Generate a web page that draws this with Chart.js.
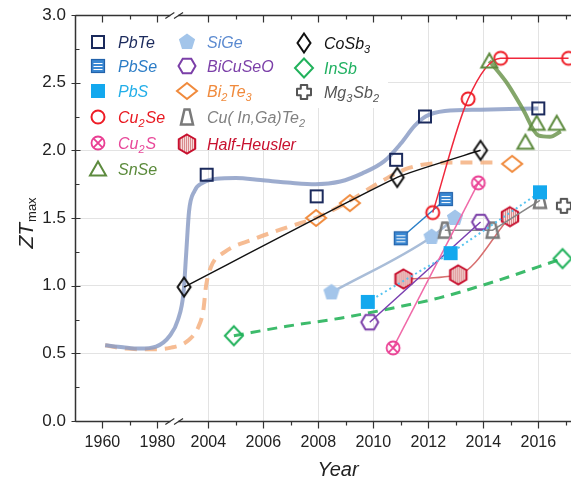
<!DOCTYPE html>
<html>
<head>
<meta charset="utf-8">
<script src="https://cdn.jsdelivr.net/npm/chart.js@4.4.1/dist/chart.umd.min.js"></script>
<style>
  body { margin: 0; background: #fff; }
  .wrap { position: relative; width: 571px; height: 482px; }
</style>
</head>
<body>
<div class="wrap"><canvas id="zt"></canvas></div>
<script>
// x values are positions on the broken axis: right of the break a position is the year,
// left of it 1960 / 1970 / 1980 sit at 2000.15 / 2001.15 / 2002.15
const tickPos = [2000.15, 2002.15, 2004, 2006, 2008, 2010, 2012, 2014, 2016];
const tickLabels = ['1960', '1980', '2004', '2006', '2008', '2010', '2012', '2014', '2016'];
const minorPos = [2001.15, 2005, 2007, 2009, 2011, 2013, 2015, 2017];
const yTicks = [0, 0.5, 1, 1.5, 2, 2.5, 3];
const yMinor = [0.25, 0.75, 1.25, 1.75, 2.25, 2.75];

const pbteX = [2003.94, 2007.94, 2010.83, 2011.88, 2016.0];
const pbteY = [1.82, 1.66, 1.93, 2.25, 2.31];
const pbseX = [2011.0, 2012.64];
const pbseY = [1.35, 1.64];
const pbsX = [2009.8, 2012.81, 2016.06];
const pbsY = [0.88, 1.24, 1.69];
const cu2seX = [2012.16, 2013.45, 2014.63, 2017.1];
const cu2seY = [1.54, 2.38, 2.68, 2.68];
const cu2sX = [2010.72, 2013.82];
const cu2sY = [0.54, 1.76];
const snseX = [2014.22, 2015.53, 2015.94, 2016.67];
const snseY = [2.66, 2.06, 2.2, 2.2];
const sigeX = [2008.48, 2012.12, 2012.97];
const sigeY = [0.95, 1.36, 1.5];
const bicuseoX = [2009.87, 2013.9];
const bicuseoY = [0.73, 1.47];
const bi2te3X = [2007.92, 2009.15, 2015.05];
const bi2te3Y = [1.5, 1.61, 1.9];
const cuingaX = [2012.6, 2014.34, 2016.06];
const cuingaY = [1.41, 1.41, 1.63];
const hhX = [2011.1, 2013.09, 2014.97];
const hhY = [1.05, 1.08, 1.51];
const cosb3X = [2003.12, 2010.87, 2013.9];
const cosb3Y = [0.99, 1.8, 2.0];
const insbX = [2004.93, 2016.88];
const insbY = [0.63, 1.2];
const mg3sb2X = [2016.93];
const mg3sb2Y = [1.59];

// trend curves
const pbteTrendX = [2000.25, 2000.9, 2001.5, 2002.1, 2002.6, 2002.9, 2003.1, 2003.2, 2003.3, 2003.5, 2003.8, 2004.3, 2005.0, 2005.9, 2007.0, 2007.9, 2008.8, 2009.6, 2010.4, 2011.0, 2011.5, 2011.9, 2012.6, 2013.9, 2016.0];
const pbteTrendY = [0.56, 0.545, 0.535, 0.55, 0.63, 0.75, 0.95, 1.25, 1.55, 1.7, 1.76, 1.79, 1.795, 1.78, 1.76, 1.75, 1.77, 1.83, 1.92, 2.05, 2.18, 2.25, 2.29, 2.3, 2.31];
const bi2te3TrendX = [2000.25, 2001.0, 2002.0, 2002.6, 2003.3, 2003.65, 2003.82, 2003.92, 2004.1, 2004.6, 2005.6, 2007.0, 2007.9, 2009.0, 2010.2, 2011.3, 2012.9, 2014.4];
const bi2te3TrendY = [0.56, 0.535, 0.53, 0.54, 0.6, 0.7, 0.82, 1.0, 1.14, 1.25, 1.34, 1.44, 1.5, 1.61, 1.76, 1.87, 1.91, 1.91];
const snseTrendX = [2014.22, 2014.85, 2015.45, 2016.0, 2016.42, 2016.82];
const snseTrendY = [2.66, 2.5, 2.3, 2.11, 2.1, 2.14];
const insbTrendX = [2004.93, 2006.85, 2008.8, 2010.6, 2012.4, 2014.24, 2016.88];
const insbTrendY = [0.63, 0.7, 0.76, 0.83, 0.91, 1.02, 1.2];

const X_MIN = 1999.153;
const X_MAX = 2017.189;
const FONT = '"Liberation Sans", Arial, sans-serif';

// marker images
function marker(draw) {
  const c = document.createElement('canvas');
  c.width = 24; c.height = 24;
  const g = c.getContext('2d');
  g.translate(12, 12);
  draw(g);
  return c;
}
function poly(g, pts) {
  g.beginPath();
  pts.forEach(([x, y], i) => i ? g.lineTo(x, y) : g.moveTo(x, y));
  g.closePath();
}
function ngon(g, n, r, rot) {
  const pts = [];
  for (let i = 0; i < n; i++) {
    const a = rot + i * 2 * Math.PI / n;
    pts.push([r * Math.cos(a), r * Math.sin(a)]);
  }
  poly(g, pts);
}

const mPbTe = marker(g => { g.strokeStyle = '#1b2a5c'; g.lineWidth = 2; g.strokeRect(-6, -6, 12, 12); });
const mPbSe = marker(g => {
  g.fillStyle = '#3a88d2'; g.fillRect(-6.5, -6.5, 13, 13);
  g.strokeStyle = '#2262aa'; g.lineWidth = 1.2; g.strokeRect(-6.5, -6.5, 13, 13);
  g.strokeStyle = '#fff'; g.lineWidth = 1;
  [-3, 0, 3].forEach(y => { g.beginPath(); g.moveTo(-4.5, y + 0.5); g.lineTo(4.5, y + 0.5); g.stroke(); });
});
const mPbS = marker(g => { g.fillStyle = '#13a8ee'; g.fillRect(-7, -7, 14, 14); });
const mCu2Se = marker(g => { g.strokeStyle = '#ee1c25'; g.lineWidth = 2; g.beginPath(); g.arc(0, 0, 6.5, 0, 2 * Math.PI); g.stroke(); });
const mCu2S = marker(g => {
  g.strokeStyle = '#ea3f94'; g.lineWidth = 1.8;
  g.beginPath(); g.arc(0, 0, 6.5, 0, 2 * Math.PI); g.stroke();
  g.beginPath(); g.moveTo(-4.6, -4.6); g.lineTo(4.6, 4.6); g.moveTo(4.6, -4.6); g.lineTo(-4.6, 4.6); g.stroke();
});
const mSnSe = marker(g => { g.strokeStyle = '#5d8b3e'; g.lineWidth = 2; poly(g, [[0, -7.5], [8, 6.5], [-8, 6.5]]); g.stroke(); });
const mSiGe = marker(g => { g.fillStyle = '#a3c5ea'; ngon(g, 5, 8.5, -Math.PI / 2); g.fill(); });
const mBiCuSeO = marker(g => { g.strokeStyle = '#7b3fa8'; g.lineWidth = 2; ngon(g, 6, 8.5, 0); g.stroke(); });
const mBi2Te3 = marker(g => { g.strokeStyle = '#f08a3c'; g.lineWidth = 2; poly(g, [[0, -8], [10, 0], [0, 8], [-10, 0]]); g.stroke(); });
const mCuInGa = marker(g => { g.strokeStyle = '#7a7a7a'; g.lineWidth = 2.5; poly(g, [[-2.5, -7.5], [2.5, -7.5], [6, 7.5], [-6, 7.5]]); g.stroke(); });
const mHH = marker(g => {
  ngon(g, 6, 9.5, -Math.PI / 2);
  g.fillStyle = '#f6dada'; g.fill();
  g.save(); g.clip();
  g.strokeStyle = '#d98c8c'; g.lineWidth = 1;
  for (let x = -9; x <= 9; x += 2) { g.beginPath(); g.moveTo(x + 0.5, -10); g.lineTo(x + 0.5, 10); g.stroke(); }
  g.restore();
  ngon(g, 6, 9.5, -Math.PI / 2);
  g.strokeStyle = '#c8102e'; g.lineWidth = 2; g.stroke();
});
const mCoSb3 = marker(g => { g.strokeStyle = '#111'; g.lineWidth = 2; poly(g, [[0, -9.5], [6.5, 0], [0, 9.5], [-6.5, 0]]); g.stroke(); });
const mInSb = marker(g => { g.strokeStyle = '#22b25c'; g.lineWidth = 2; poly(g, [[0, -9.5], [9, 0], [0, 9.5], [-9, 0]]); g.stroke(); });
const mMg3Sb2 = marker(g => {
  const a = 3.2, b = 7;
  g.strokeStyle = '#555'; g.lineWidth = 2; g.lineJoin = 'round';
  poly(g, [[-a, -b], [a, -b], [a, -a], [b, -a], [b, a], [a, a], [a, b], [-a, b], [-a, a], [-b, a], [-b, -a], [-a, -a]]);
  g.stroke();
});

const pts = (xs, ys) => xs.map((x, i) => ({ x, y: ys[i] }));

function series(xs, ys, style, opts) {
  return Object.assign({
    data: pts(xs, ys), pointStyle: style, pointRadius: 6, fill: false,
    borderWidth: 1.5, order: 1
  }, opts);
}
function trend(xs, ys, opts) {
  return Object.assign({
    data: pts(xs, ys), pointRadius: 0, fill: false,
    cubicInterpolationMode: 'monotone', order: 5
  }, opts);
}

const datasets = [
  trend(pbteTrendX, pbteTrendY, { borderColor: 'rgba(140,158,198,0.85)', borderWidth: 4 }),
  trend(bi2te3TrendX, bi2te3TrendY, { borderColor: 'rgba(244,176,128,0.85)', borderWidth: 4, borderDash: [12, 8] }),
  trend(snseTrendX, snseTrendY, { borderColor: 'rgba(110,150,80,0.85)', borderWidth: 4, order: 4 }),
  trend(insbTrendX, insbTrendY, { borderColor: '#3dbb6b', borderWidth: 3, borderDash: [10, 7], order: 4 }),
  series(cosb3X, cosb3Y, mCoSb3, { borderColor: '#111', tension: 0.15 }),
  series(pbteX, pbteY, mPbTe, { showLine: false }),
  series(bi2te3X, bi2te3Y, mBi2Te3, { showLine: false }),
  series(snseX, snseY, mSnSe, { showLine: false }),
  series(insbX, insbY, mInSb, { showLine: false }),
  series(mg3sb2X, mg3sb2Y, mMg3Sb2, { showLine: false }),
  series(cu2seX, cu2seY, mCu2Se, { borderColor: '#f0283c', cubicInterpolationMode: 'monotone' }),
  series(pbseX, pbseY, mPbSe, { borderColor: '#2a7fc8' }),
  series(pbsX, pbsY, mPbS, { borderColor: '#58c4f0', borderWidth: 2, borderDash: [2, 3] }),
  series(cu2sX, cu2sY, mCu2S, { borderColor: '#f06aa8' }),
  series(sigeX, sigeY, mSiGe, { borderColor: '#a9bdd8', borderWidth: 2.5, cubicInterpolationMode: 'monotone', order: 2 }),
  series(bicuseoX, bicuseoY, mBiCuSeO, { borderColor: '#7a3fb0' }),
  series(cuingaX, cuingaY, mCuInGa, { borderColor: '#888' }),
  series(hhX, hhY, mHH, { borderColor: '#d87070', cubicInterpolationMode: 'monotone' })
];

const legendRows = [
  { m: mPbTe, x: 98, y: 42, c: '#1b2a5c', t: [['PbTe']] },
  { m: mPbSe, x: 98, y: 66, c: '#2b7cc6', t: [['PbSe']] },
  { m: mPbS, x: 98, y: 91, c: '#22aee8', t: [['PbS']] },
  { m: mCu2Se, x: 98, y: 117, c: '#e81820', t: [['Cu'], ['2', 1], ['Se']] },
  { m: mCu2S, x: 98, y: 143, c: '#e8489a', t: [['Cu'], ['2', 1], ['S']] },
  { m: mSnSe, x: 98, y: 169, c: '#5a8a3a', t: [['SnSe']] },
  { m: mSiGe, x: 187, y: 42, c: '#5b8ad0', t: [['SiGe']] },
  { m: mBiCuSeO, x: 187, y: 66, c: '#7b3fa8', t: [['BiCuSeO']] },
  { m: mBi2Te3, x: 187, y: 91, c: '#f08a3c', t: [['Bi'], ['2', 1], ['Te'], ['3', 1]] },
  { m: mCuInGa, x: 187, y: 117, c: '#808080', t: [['Cu( In,Ga)Te'], ['2', 1]] },
  { m: mHH, x: 187, y: 144, c: '#c8102e', t: [['Half-Heusler']] },
  { m: mCoSb3, x: 304, y: 43, c: '#111', t: [['CoSb'], ['3', 1]] },
  { m: mInSb, x: 304, y: 68, c: '#1fb060', t: [['InSb']] },
  { m: mMg3Sb2, x: 304, y: 92, c: '#555', t: [['Mg'], ['3', 1], ['Sb'], ['2', 1]] }
];

function drawRich(ctx, parts, x, y, color) {
  ctx.fillStyle = color;
  ctx.textAlign = 'left';
  ctx.textBaseline = 'alphabetic';
  let cx = x;
  parts.forEach(([s, sub]) => {
    ctx.font = sub ? 'italic 11px ' + FONT : 'italic 16px ' + FONT;
    ctx.fillText(s, cx, sub ? y + 10 : y + 6);
    cx += ctx.measureText(s).width + (sub ? 1 : 0);
  });
}

const frame = {
  id: 'frame',
  beforeDatasetsDraw(chart) {
    const ctx = chart.ctx;
    ctx.save();
    ctx.fillStyle = '#fff';
    ctx.fillRect(76, 16, 226, 134);
    ctx.fillRect(300, 16, 88, 92);
    ctx.restore();
  },
  afterDraw(chart) {
    const ctx = chart.ctx;
    const a = chart.chartArea;
    const xs = chart.scales.x, ys = chart.scales.y;
    const L = Math.round(a.left) + 0.5, B = Math.round(a.bottom) + 0.5, T = Math.round(a.top) + 0.5;
    const R = a.right;
    ctx.save();
    ctx.strokeStyle = '#333';
    ctx.lineWidth = 1.5;
    ctx.beginPath();
    ctx.moveTo(L, T); ctx.lineTo(L, B);
    ctx.moveTo(L, B); ctx.lineTo(R, B);
    ctx.moveTo(L, T); ctx.lineTo(R, T);
    ctx.stroke();

    // ticks
    ctx.lineWidth = 1.2;
    ctx.beginPath();
    tickPos.forEach(v => {
      const px = Math.round(xs.getPixelForValue(v)) + 0.5;
      ctx.moveTo(px, B); ctx.lineTo(px, B + 7);
      ctx.moveTo(px, T); ctx.lineTo(px, T + 7);
    });
    minorPos.forEach(v => {
      const px = Math.round(xs.getPixelForValue(v)) + 0.5;
      ctx.moveTo(px, B); ctx.lineTo(px, B + 4);
      ctx.moveTo(px, T); ctx.lineTo(px, T + 4);
    });
    yTicks.forEach(v => {
      const py = Math.round(ys.getPixelForValue(v)) + 0.5;
      ctx.moveTo(L - 4, py); ctx.lineTo(L + 5, py);
    });
    yMinor.forEach(v => {
      const py = Math.round(ys.getPixelForValue(v)) + 0.5;
      ctx.moveTo(L, py); ctx.lineTo(L + 4, py);
    });
    ctx.stroke();

    // axis breaks
    const b0 = xs.getPixelForValue(2002.62), b1 = xs.getPixelForValue(2002.9);
    [B, T].forEach(yy => {
      ctx.fillStyle = '#fff';
      ctx.fillRect(b0, yy - 2, b1 - b0, 4);
      ctx.strokeStyle = '#333';
      ctx.lineWidth = 1.2;
      ctx.beginPath();
      ctx.moveTo(b0 - 5, yy + 3); ctx.lineTo(b0 + 4, yy - 3);
      ctx.moveTo(b1 - 4, yy + 3); ctx.lineTo(b1 + 5, yy - 3);
      ctx.stroke();
    });

    // legend
    legendRows.forEach(r => {
      ctx.drawImage(r.m, r.x - 12, r.y - 12);
      drawRich(ctx, r.t, r.x + 20, r.y, r.c);
    });

    // axis titles
    ctx.fillStyle = '#222';
    ctx.font = 'italic 20px ' + FONT;
    ctx.textAlign = 'center';
    ctx.textBaseline = 'alphabetic';
    ctx.fillText('Year', 338, 476);

    ctx.translate(33, 223);
    ctx.rotate(-Math.PI / 2);
    ctx.textAlign = 'left';
    ctx.font = 'italic 21px ' + FONT;
    const w1 = ctx.measureText('ZT').width;
    ctx.font = '13px ' + FONT;
    const w2 = ctx.measureText('max').width;
    const start = -(w1 + w2 + 1) / 2;
    ctx.font = 'italic 21px ' + FONT;
    ctx.fillText('ZT', start, 0);
    ctx.font = '13px ' + FONT;
    ctx.fillText('max', start + w1 + 1, 3);
    ctx.restore();
  }
};

new Chart(document.getElementById('zt'), {
  type: 'line',
  data: { datasets },
  options: {
    responsive: true,
    maintainAspectRatio: false,
    animation: false,
    events: [],
    layout: { autoPadding: false, padding: { top: 15, right: 0, bottom: 0, left: 0 } },
    plugins: { legend: { display: false }, tooltip: { enabled: false } },
    scales: {
      x: {
        type: 'linear',
        min: X_MIN,
        max: X_MAX,
        afterBuildTicks: s => { s.ticks = tickPos.map(v => ({ value: v })); },
        afterFit: s => { s.height = 61; s.paddingLeft = 0; s.paddingRight = 0; },
        ticks: {
          callback: (v, i) => tickLabels[i],
          font: { family: FONT, size: 16 },
          color: '#222',
          padding: 12,
          autoSkip: false,
          maxRotation: 0
        },
        grid: {
          color: c => (c.tick && c.tick.value >= 2004) ? '#e3e3e3' : 'rgba(0,0,0,0)',
          drawTicks: false
        },
        border: { display: false }
      },
      y: {
        min: 0,
        max: 3,
        afterBuildTicks: s => { s.ticks = yTicks.map(v => ({ value: v })); },
        afterFit: s => { s.width = 75; s.paddingTop = 0; s.paddingBottom = 0; },
        ticks: {
          callback: v => v.toFixed(1),
          font: { family: FONT, size: 17 },
          color: '#222',
          padding: 9
        },
        grid: {
          color: c => (c.tick && c.tick.value > 0 && c.tick.value < 3) ? '#e3e3e3' : 'rgba(0,0,0,0)',
          drawTicks: false
        },
        border: { display: false }
      }
    }
  },
  plugins: [frame]
});
</script>
</body>
</html>
